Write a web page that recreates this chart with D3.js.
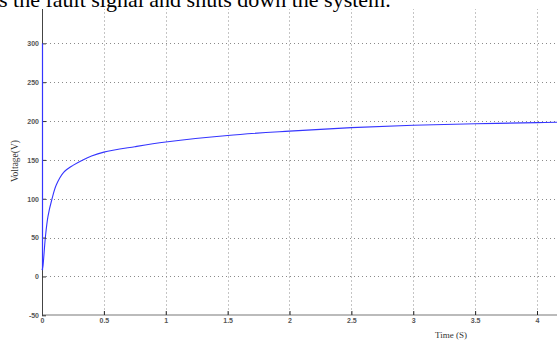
<!DOCTYPE html>
<html>
<head>
<meta charset="utf-8">
<script src="https://cdn.jsdelivr.net/npm/d3@7"></script>
<style>
  body { margin: 0; background: #fff; }
  svg { display: block; }
  .axis text { font-family: "Liberation Sans", Arial, sans-serif; font-size: 7px; font-weight: bold; fill: #555; }
</style>
</head>
<body>
<div id="chart"></div>
<script>
// values
let timeValues    = [0.001, 0.008, 0.027, 0.048, 0.081, 0.116, 0.175, 0.25, 0.33, 0.40, 0.5, 0.75, 1, 1.5, 2, 2.5, 3, 3.5, 4, 4.2];
let voltageValues = [8, 14, 50, 77, 100, 118, 134, 143, 150, 155, 160, 167, 173, 181.5, 187, 191.5, 194.5, 196.5, 198, 198.5];
let spikeValues = [300, 8];
let xTicks = [0, 0.5, 1, 1.5, 2, 2.5, 3, 3.5, 4];
let yTicks = [-50, 0, 50, 100, 150, 200, 250, 300];
let headerText = "s the fault signal and shuts down the system.";

let data = timeValues.map(function(t, i) { return { time: t, volt: voltageValues[i] }; });

let width = 557, height = 341;

let svg = d3.select("#chart").append("svg")
    .attr("width", width)
    .attr("height", height);

// scales (plot continues past the right edge of the crop)
let x = d3.scaleLinear().domain([0, 4.5]).range([42, 42 + 4.5 * 123.75]);
let y = d3.scaleLinear().domain([-50, 350]).range([315.3, 4.5]);

// grid
let grid = svg.append("g")
    .attr("stroke", "#8a8a8a")
    .attr("stroke-width", 1)
    .attr("stroke-dasharray", "1,3");

grid.selectAll(".vgrid")
    .data(xTicks.filter(d => d > 0))
    .enter().append("line")
    .attr("class", "vgrid")
    .attr("x1", d => Math.round(x(d)) + 0.5)
    .attr("x2", d => Math.round(x(d)) + 0.5)
    .attr("y1", y(350))
    .attr("y2", y(-50));

grid.selectAll(".hgrid")
    .data(yTicks.filter(d => d > -50))
    .enter().append("line")
    .attr("class", "hgrid")
    .attr("x1", x(0))
    .attr("x2", width)
    .attr("y1", d => Math.round(y(d)) + 0.5)
    .attr("y2", d => Math.round(y(d)) + 0.5);

// axes
let xAxis = d3.axisBottom(x)
    .tickValues(xTicks)
    .tickSizeInner(-4)
    .tickSizeOuter(0)
    .tickPadding(3)
    .tickFormat(d => String(d));

let yAxis = d3.axisLeft(y)
    .tickValues(yTicks)
    .tickSizeInner(-4)
    .tickSizeOuter(0)
    .tickPadding(3)
    .tickFormat(d => String(d));

let gx = svg.append("g")
    .attr("class", "axis x-axis")
    .attr("transform", "translate(0," + Math.round(y(-50)) + ")")
    .call(xAxis);
gx.select(".domain").attr("stroke", "#bbb").attr("stroke-width", 2)
    .attr("d", "M" + x(0) + ",0H" + width);
gx.selectAll(".tick line").attr("stroke", "#222");

// curve
let line = d3.line()
    .x(d => x(d.time))
    .y(d => y(d.volt))
    .curve(d3.curveCatmullRom.alpha(0.5));

svg.append("path")
    .datum(data)
    .attr("d", line)
    .attr("fill", "none")
    .attr("stroke", "#3535ff")
    .attr("stroke-width", 1.1);

let gy = svg.append("g")
    .attr("class", "axis y-axis")
    .attr("transform", "translate(" + Math.round(x(0)) + ",0)")
    .call(yAxis);
gy.select(".domain").attr("stroke", "#444").attr("stroke-width", 1);
gy.selectAll(".tick line").attr("stroke", "#333");

// spike at t = 0, drawn over the axis line
svg.append("line")
    .attr("x1", Math.round(x(0)) + 0.5)
    .attr("x2", Math.round(x(0)) + 0.5)
    .attr("y1", y(spikeValues[0]))
    .attr("y2", y(spikeValues[1]))
    .attr("stroke", "#3535ff")
    .attr("stroke-width", 1.2);

// axis titles
svg.append("text")
    .attr("x", 451)
    .attr("y", 338)
    .attr("text-anchor", "middle")
    .style("font-family", "'Liberation Serif', 'Times New Roman', serif")
    .style("font-size", "9px")
    .style("fill", "#333")
    .text("Time (S)");

svg.append("text")
    .attr("transform", "translate(18,161) rotate(-90)")
    .attr("text-anchor", "middle")
    .style("font-family", "'Liberation Serif', 'Times New Roman', serif")
    .style("font-size", "9.5px")
    .style("fill", "#333")
    .text("Voltage(V)");

// cropped document text above the figure
svg.append("rect")
    .attr("x", 0).attr("y", 0)
    .attr("width", width).attr("height", 9)
    .attr("fill", "#fff");

svg.append("text")
    .attr("x", -1)
    .attr("y", 7)
    .style("font-family", "'Liberation Serif', 'Times New Roman', serif")
    .style("font-size", "22px")
    .style("fill", "#000")
    .text(headerText);
</script>
</body>
</html>
